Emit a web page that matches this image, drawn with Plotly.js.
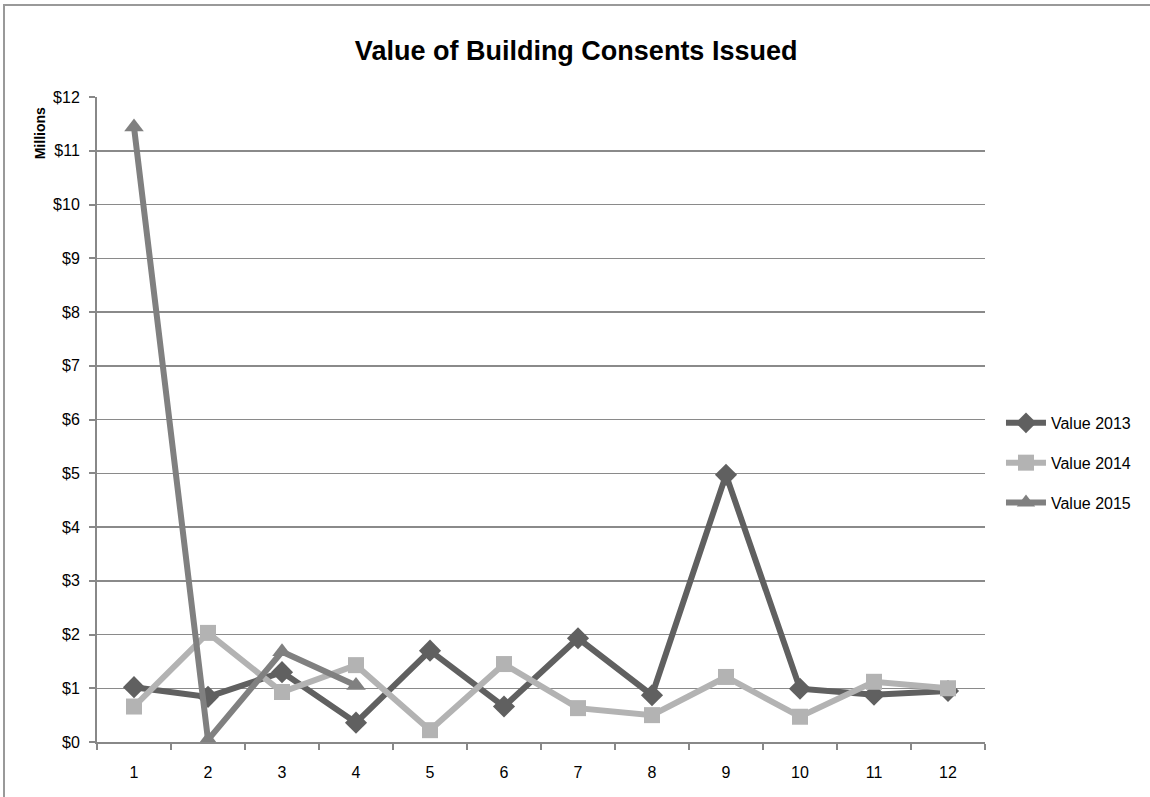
<!DOCTYPE html>
<html>
<head>
<meta charset="utf-8">
<script src="https://cdn.plot.ly/plotly-3.0.1.min.js"></script>
<style>
html,body{margin:0;padding:0;background:#fff;}
#wrap{position:relative;width:1150px;height:797px;overflow:hidden;}
#chart{position:absolute;left:0;top:0;width:1150px;height:797px;}
#frame{position:absolute;left:3px;top:4px;width:1200px;height:900px;border-top:2px solid #999;border-left:2px solid #999;pointer-events:none;}
</style>
</head>
<body>
<div id="wrap"><div id="chart"></div><div id="frame"></div></div>
<script>
var months = ["1","2","3","4","5","6","7","8","9","10","11","12"];
var value2013 = [1.02, 0.84, 1.30, 0.36, 1.70, 0.66, 1.93, 0.87, 4.97, 0.99, 0.88, 0.95];
var value2014 = [0.66, 2.03, 0.93, 1.43, 0.22, 1.45, 0.63, 0.50, 1.21, 0.47, 1.12, 1.00];
var value2015 = [11.44, 0.04, 1.68, 1.05];
var yTicks = [0,1,2,3,4,5,6,7,8,9,10,11,12];
var yTickText = yTicks.map(function(v){return "$" + v;});

var font = "Liberation Sans, Arial, sans-serif";

var traces = [
  {x: months, y: value2013, name: "Value 2013", type: "scatter", mode: "lines+markers",
   legendgroup: "a",
   line: {color: "#606060", width: 6},
   marker: {symbol: "diamond", size: 17, color: "#606060"}},
  {x: months, y: value2014, name: "Value 2014", type: "scatter", mode: "lines+markers",
   legendgroup: "b",
   line: {color: "#b3b3b3", width: 6},
   marker: {symbol: "square", size: 16, color: "#b3b3b3"}},
  {x: months.slice(0, value2015.length), y: value2015, name: "Value 2015", type: "scatter", mode: "lines+markers",
   legendgroup: "c",
   line: {color: "#808080", width: 6},
   marker: {symbol: "triangle-up", size: 17, color: "#808080"}}
];

var layout = {
  width: 1150, height: 797,
  margin: {l: 97, r: 165, t: 97, b: 55},
  paper_bgcolor: "#ffffff", plot_bgcolor: "#ffffff",
  showlegend: true,
  title: {text: "<b>Value of Building Consents Issued</b>", x: 0.501, xanchor: "center", y: 0.937, yanchor: "middle",
          font: {family: font, size: 27, color: "#000"}},
  font: {family: font, size: 15, color: "#000"},
  xaxis: {type: "category", categoryarray: months, range: [-0.5, 11.5],
          showline: true, linecolor: "#888", linewidth: 2,
          ticks: "outside", tickson: "boundaries", ticklen: 6, tickcolor: "#888", tickwidth: 2,
          showgrid: false, zeroline: false, ticklabelstandoff: 15,
          tickfont: {family: font, size: 16, color: "#000"}},
  yaxis: {range: [0, 12], tickvals: yTicks, ticktext: yTickText,
          showline: true, linecolor: "#888", linewidth: 2,
          ticks: "outside", ticklen: 6, tickcolor: "#888", tickwidth: 2,
          showgrid: true, gridcolor: "#8a8a8a", gridwidth: 1.5, zeroline: false,
          ticklabelstandoff: 6,
          tickfont: {family: font, size: 16, color: "#000"}},
  legend: {x: 1.018, xanchor: "left", y: 0.4326, yanchor: "middle",
           traceorder: "grouped", tracegroupgap: 16, itemwidth: 40,
           font: {family: font, size: 16, color: "#000"}, bgcolor: "rgba(0,0,0,0)"},
  annotations: [{text: "<b>Millions</b>", xref: "paper", yref: "paper", x: -0.064, y: 0.944,
                 xanchor: "center", yanchor: "middle", textangle: -90, showarrow: false,
                 font: {family: font, size: 14, color: "#000"}}]
};

Plotly.newPlot("chart", traces, layout, {displayModeBar: false, staticPlot: true});
</script>
</body>
</html>
